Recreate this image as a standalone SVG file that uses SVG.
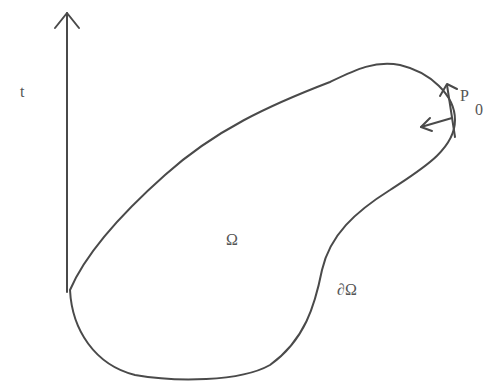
<svg xmlns="http://www.w3.org/2000/svg" width="487" height="382" viewBox="0 0 487 382">
<style>
.ln{fill:none;stroke:#4a4a4a;stroke-width:2;stroke-linecap:round;stroke-linejoin:round}
.tx{font-family:"Liberation Serif",serif;fill:#555;font-size:16px}
</style>
<rect width="487" height="382" fill="#fff"/>
<g id="axis">
<path class="ln" d="M67,292 L67,13"/>
<path class="ln" d="M55,28 L67,13 L79,28"/>
<text class="tx" x="20" y="97">t</text>
</g>
<g id="region">
<path class="ln" d="M70,290 C85,255 120,215 165,175 C215,130 270,105 330,82 C355,70 375,60 400,65 C430,72 455,95 455,120 C455,150 420,170 390,190 C355,212 330,235 322,270 C315,305 305,340 270,365 C240,382 175,382 135,375 C95,365 72,330 70,290 Z"/>
<text class="tx" x="226" y="245">Ω</text>
<text class="tx" x="337" y="295">∂Ω</text>
</g>
<g id="connectors">
<path class="ln" d="M447,85 L455,137"/>
<path class="ln" d="M440,96 L447,84 L457,89"/>
<path class="ln" d="M452,118 L421,127"/>
<path class="ln" d="M430,118 L421,127 L432,131"/>
</g>
<g id="p0">
<text class="tx" x="460" y="101" font-size="19">P</text>
<text class="tx" x="475" y="115" font-size="15">0</text>
</g>
</svg>
